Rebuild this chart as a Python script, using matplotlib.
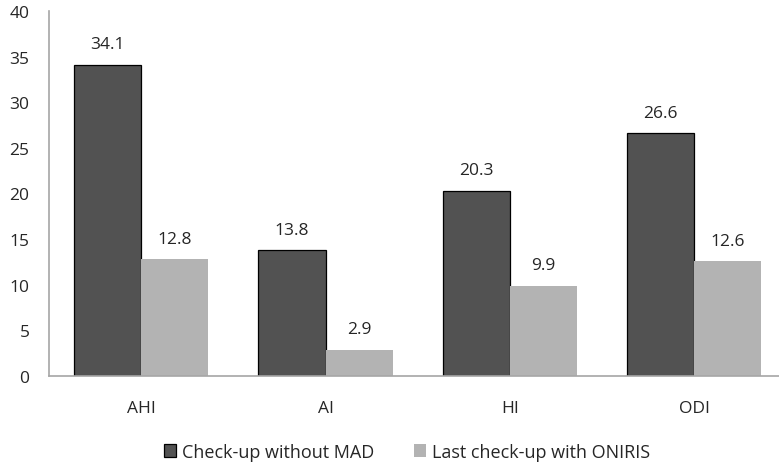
import matplotlib.pyplot as plt
from matplotlib.patches import Patch
import numpy as np

plt.rcParams['font.family'] = ['Open Sans', 'DejaVu Sans']

categories = ['AHI', 'AI', 'HI', 'ODI']
without_mad = [34.1, 13.8, 20.3, 26.6]
with_oniris = [12.8, 2.9, 9.9, 12.6]
series_names = ['Check-up without MAD', 'Last check-up with ONIRIS']

dark = '#525252'
light = '#b3b3b3'
axis_grey = '#a6a6a6'
text_col = '#262626'

fig = plt.figure(figsize=(7.79, 4.64), dpi=100)
ax = fig.add_axes([49 / 779, 1 - 377 / 464, 1 - 49 / 779, (377 - 12) / 464])

x = np.arange(len(categories))
w = 0.365
b1 = ax.bar(x - w / 2, without_mad, w, color=dark, edgecolor='black', linewidth=0.9)
b2 = ax.bar(x + w / 2, with_oniris, w, color=light, edgecolor='none')

for bars in (b1, b2):
    for r in bars:
        h = r.get_height()
        ax.annotate(f'{h:.1f}', (r.get_x() + r.get_width() / 2, h),
                    xytext=(0, 9), textcoords='offset points',
                    ha='center', va='bottom', fontsize=12.5, color=text_col)

ax.set_xlim(-0.5, 3.46)
ax.set_ylim(0, 40)
ax.set_yticks(range(0, 41, 5))
ax.set_xticks(x)
ax.set_xticklabels(categories)
ax.tick_params(length=0, labelsize=12.5, colors=text_col)
ax.tick_params(axis='x', pad=17)
ax.tick_params(axis='y', pad=14)
for s in ('top', 'right'):
    ax.spines[s].set_visible(False)
for s in ('left', 'bottom'):
    ax.spines[s].set_color(axis_grey)
    ax.spines[s].set_linewidth(1.2)

handles = [Patch(facecolor=dark, edgecolor='black', linewidth=0.9),
           Patch(facecolor=light, edgecolor='none')]
fig.legend(handles, series_names, loc='center', bbox_to_anchor=(0.522, 1 - 453 / 464),
           ncol=2, frameon=False, fontsize=13, handlelength=0.7, handleheight=0.7,
           handletextpad=0.3, columnspacing=2.2, labelcolor=text_col)

fig.savefig('out.png', dpi=100)
